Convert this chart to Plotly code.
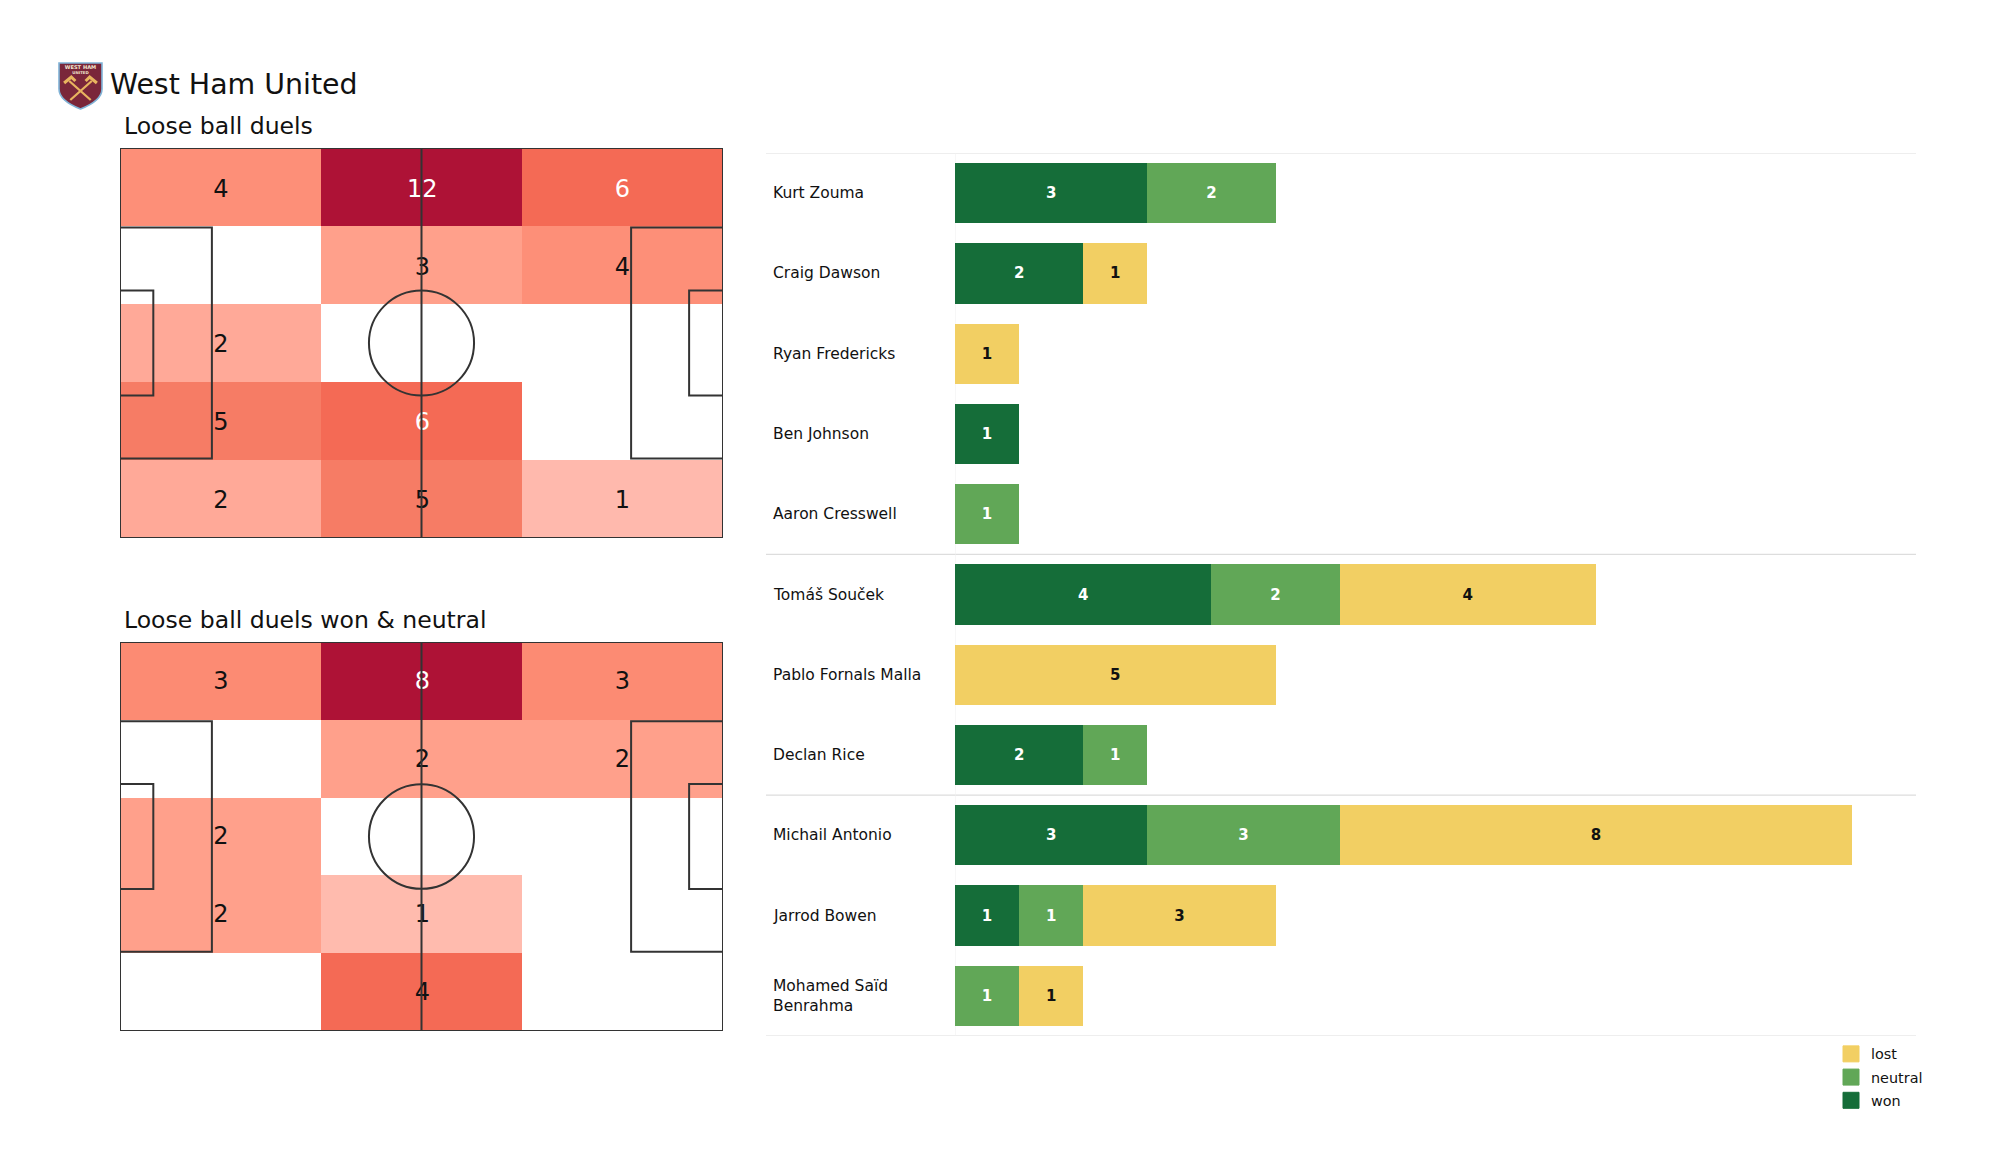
import base64
import plotly.graph_objects as go

W, H = 2000, 1175

# ---------- data ----------
players = ["Kurt Zouma", "Craig Dawson", "Ryan Fredericks", "Ben Johnson", "Aaron Cresswell",
           "Tomáš Souček", "Pablo Fornals Malla", "Declan Rice",
           "Michail Antonio", "Jarrod Bowen", "Mohamed Saïd<br>Benrahma"]
won = [3, 2, 0, 1, 0, 4, 0, 2, 3, 1, 0]
neutral = [2, 0, 0, 0, 1, 2, 0, 1, 3, 1, 1]
lost = [0, 1, 1, 0, 0, 4, 5, 0, 8, 3, 1]

duels_all = [[4, 12, 6], [0, 3, 4], [2, 0, 0], [5, 6, 0], [2, 5, 1]]
duels_won_neutral = [[3, 8, 3], [0, 2, 2], [2, 0, 0], [2, 1, 0], [0, 4, 0]]

x_edges = [0, 35.3, 70.2, 105]
y_edges = [68, 54.3, 40.8, 27.2, 13.6, 0]

C_WON, C_NEUTRAL, C_LOST = "#156d39", "#61a757", "#f2cf63"
FONT = "DejaVu Sans"
INK = "#111111"

heat_scale = [[0, "#ffffff"], [0.04, "#ffffff"], [0.083, "#ffb9ad"], [0.125, "#ffbbae"], [0.167, "#ffa998"],
              [0.25, "#ffa08b"], [0.333, "#fd8f78"], [0.375, "#fc8b73"], [0.417, "#f67c65"], [0.5, "#f46a55"],
              [0.75, "#d23c45"], [1, "#ae1236"]]

fig = go.Figure()


def px_x(v):
    return v / W


def px_y(v):
    return 1 - v / H


def add_pitch(z, xa, ya, text_drop):
    fig.add_trace(go.Heatmap(z=z, x=x_edges, y=y_edges, zmin=0, zmax=max(map(max, z)),
                             colorscale=heat_scale, showscale=False, xaxis=xa, yaxis=ya,
                             hoverinfo="skip"))
    xs, ys, ts, cs = [], [], [], []
    for r, row in enumerate(z):
        for c, v in enumerate(row):
            if v:
                xs.append((x_edges[c] + x_edges[c + 1]) / 2 - 0.1)
                ys.append((y_edges[r] + y_edges[r + 1]) / 2 - text_drop)
                ts.append(str(v))
                cs.append("#ffffff" if v >= 6 else INK)
    fig.add_trace(go.Scatter(x=xs, y=ys, text=ts, mode="text", xaxis=xa, yaxis=ya,
                             textfont=dict(family=FONT, size=24, color=cs),
                             showlegend=False, hoverinfo="skip"))
    line = dict(color="#333333", width=2)
    boxes = [(0, 0, 105, 68), (0, 13.84, 16, 54.16), (0, 24.84, 5.8, 43.16),
             (89, 13.84, 105, 54.16), (99.1, 24.84, 105, 43.16)]
    for x0, y0, x1, y1 in boxes:
        fig.add_shape(type="rect", xref=xa, yref=ya, x0=x0, y0=y0, x1=x1, y1=y1, line=line, layer="above")
    fig.add_shape(type="line", xref=xa, yref=ya, x0=52.5, y0=0, x1=52.5, y1=68, line=line, layer="above")
    fig.add_shape(type="circle", xref=xa, yref=ya, x0=43.35, y0=24.85, x1=61.65, y1=43.15, line=line, layer="above")


add_pitch(duels_all, "x", "y", 0.6)
add_pitch(duels_won_neutral, "x2", "y2", 0.3)

# ---------- stacked bars ----------
rows = list(range(len(players)))
for vals, col, txt in [(won, C_WON, "#ffffff"), (neutral, C_NEUTRAL, "#ffffff"), (lost, C_LOST, INK)]:
    fig.add_trace(go.Bar(x=vals, y=rows, orientation="h", xaxis="x3", yaxis="y3", width=0.75,
                         marker=dict(color=col, line=dict(width=0)), showlegend=False,
                         text=[str(v) if v else "" for v in vals], textposition="inside",
                         insidetextanchor="middle", textangle=0, constraintext="none",
                         textfont=dict(family=FONT, size=15, color=txt, weight="bold"),
                         hoverinfo="skip"))

for name, col in [("lost", C_LOST), ("neutral", C_NEUTRAL), ("won", C_WON)]:
    fig.add_trace(go.Scatter(x=[None], y=[None], mode="markers", name=name, xaxis="x3", yaxis="y3",
                             legendgroup=name,
                             marker=dict(symbol="square", size=16, color=col, line=dict(width=1, color=col))))

for i, p in enumerate(players):
    fig.add_annotation(text=p, xref="paper", yref="y3", x=px_x(771), y=i, xanchor="left", yanchor="middle",
                       align="left", showarrow=False, font=dict(family=FONT, size=15.5, color=INK))

for sep in [-0.5, 4.5, 7.5, 10.5]:
    fig.add_shape(type="line", xref="paper", yref="y3", x0=px_x(766), x1=px_x(1916), y0=sep, y1=sep,
                  line=dict(color="#dddddd", width=1.2), layer="below")
fig.add_shape(type="line", xref="x3", yref="y3", x0=0, x1=0, y0=-0.5, y1=10.5,
              line=dict(color="#f0f0f0", width=1), layer="below")

# ---------- titles ----------
titles = [("West Ham United", 108, 84, 28.4), ("Loose ball duels", 122, 126, 23.55),
          ("Loose ball duels won & neutral", 122, 620, 23.55)]
for t, x, y, s in titles:
    fig.add_annotation(text=t, xref="paper", yref="paper", x=px_x(x), y=px_y(y), xanchor="left",
                       yanchor="middle", showarrow=False, font=dict(family=FONT, size=s, color=INK))

# ---------- crest ----------
crest = """<svg xmlns='http://www.w3.org/2000/svg' viewBox='0 0 44 48'>
<path d='M1 1 H43 V27 C43 37 32 43 22 47 C12 43 1 37 1 27 Z' fill='#7a263a' stroke='#7fb2d6' stroke-width='1.6'/>
<text x='22' y='7' font-size='5' font-weight='bold' font-family='DejaVu Sans' text-anchor='middle' fill='#f3e6d0'>WEST HAM</text>
<text x='22' y='11.5' font-size='3.8' font-weight='bold' font-family='DejaVu Sans' text-anchor='middle' fill='#f3e6d0'>UNITED</text>
<path d='M12 38 L33 19 M32 38 L11 19' stroke='#e8b45f' stroke-width='2.2'/>
<path d='M6 21 L13 15 L17 19 M38 21 L31 15 L27 19' stroke='#e8b45f' stroke-width='3' fill='none'/>
</svg>"""
crest_uri = "data:image/svg+xml;base64," + base64.b64encode(crest.encode()).decode()
fig.add_layout_image(source=crest_uri, xref="paper", yref="paper", x=px_x(58), y=px_y(62),
                     sizex=45 / W, sizey=48 / H, xanchor="left", yanchor="top", sizing="stretch", layer="above")

hidden = dict(visible=False, showgrid=False, zeroline=False)
fig.update_layout(
    width=W, height=H, margin=dict(l=0, r=0, t=0, b=0), autosize=False,
    paper_bgcolor="#ffffff", plot_bgcolor="rgba(0,0,0,0)", barmode="stack", showlegend=True,
    xaxis=dict(domain=[px_x(120), px_x(723)], range=[0, 105], **hidden),
    yaxis=dict(domain=[px_y(538), px_y(148)], range=[0, 68], **hidden),
    xaxis2=dict(domain=[px_x(120), px_x(723)], range=[0, 105], **hidden),
    yaxis2=dict(domain=[px_y(1031), px_y(642)], range=[0, 68], **hidden),
    xaxis3=dict(domain=[px_x(955), px_x(1916)], range=[0, 961 / 64.1], **hidden),
    yaxis3=dict(domain=[px_y(1036), px_y(153)], range=[10.5, -0.5], **hidden),
    legend=dict(x=px_x(1831), y=px_y(1038), xanchor="left", yanchor="top", traceorder="grouped",
                tracegroupgap=1.5, bgcolor="rgba(0,0,0,0)", font=dict(family=FONT, size=14.4, color=INK),
                itemclick=False, itemdoubleclick=False),
)

fig.write_html("out.html", config={"displayModeBar": False},
               post_script="document.body.style.margin='0';document.body.style.overflow='hidden';")
